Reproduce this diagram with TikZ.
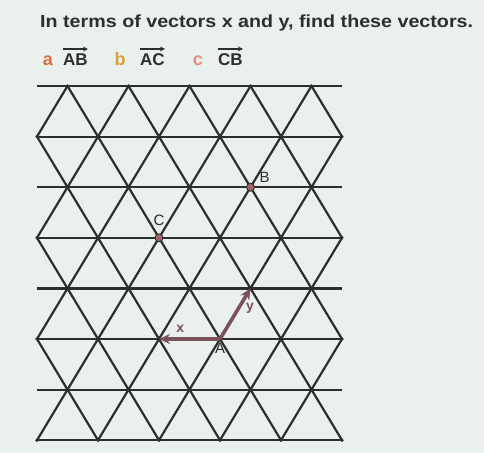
\documentclass[tikz,border=0pt]{standalone}
\usepackage{fontspec}
\setmainfont{Liberation Sans}
\usetikzlibrary{arrows.meta}

\definecolor{paper}{HTML}{E9F0EE}
\definecolor{ink}{HTML}{2B302F}
\definecolor{vecink}{HTML}{7B5159}
\definecolor{ptfill}{HTML}{A56468}
\definecolor{parta}{HTML}{D9703F}
\definecolor{partb}{HTML}{D9A23A}
\definecolor{partc}{HTML}{E0907F}

\tikzset{
  gridline/.style={ink, line width=2.2pt},
  latdot/.style={ink, fill=ink},
  vecline/.style={vecink, line width=3.6pt, -{Stealth[length=11pt,width=10pt]}},
  veclabel/.style={vecink, font=\fontsize{14}{14}\selectfont\bfseries, inner sep=0pt},
  ptlabel/.style={ink, font=\fontsize{15}{15}\selectfont, inner sep=0pt},
  bigpt/.style={draw=ink, fill=ptfill, line width=0.9pt},
  partletter/.style={font=\fontsize{18}{18}\selectfont\bfseries},
  partname/.style={ink, font=\fontsize{17}{17}\selectfont\bfseries, inner sep=0pt},
}

\begin{document}
\begin{tikzpicture}[x=1pt, y=-1pt]

 \fill[paper] (0,0) rectangle (484,453);
 \useasboundingbox (0,0) rectangle (484,453);

 %question
 \node[ink, anchor=base west, inner sep=0pt, xscale=1.125, font=\fontsize{17.5}{17.5}\selectfont\bfseries] (question) at (40,27)
   {In terms of vectors x and y, find these vectors.};

 \node[partletter, parta, anchor=base] (pa) at (48,65) {a};
 \node[partname, anchor=base west] (AB) at (63,65) {AB};
 \node[partletter, partb, anchor=base] (pb) at (120,65) {b};
 \node[partname, anchor=base west] (AC) at (140,65) {AC};
 \node[partletter, partc, anchor=base] (pc) at (198,65) {c};
 \node[partname, anchor=base west] (CB) at (218,65) {CB};

 \foreach \name in {AB, AC, CB} {
   \draw[ink, line width=1.5pt, -{Stealth[length=5pt,width=5pt]}] ([yshift=4pt]\name.north west) -- ([yshift=4pt]\name.north east);
 }

 %lattice points
 \def\sx{61}
 \def\sy{50.6}
 \foreach \r in {1,3,5,7} {
   \foreach \k in {0,...,4} {
     \coordinate (P\r-\k) at (67.5+\k*\sx, 86+\r*\sy-\sy);
   }
 }
 \foreach \r in {2,4,6,8} {
   \foreach \k in {0,...,5} {
     \coordinate (P\r-\k) at (37+\k*\sx, 86+\r*\sy-\sy);
   }
 }

 %horizontal lines
 \foreach \r in {1,...,8} {
   \coordinate (L\r) at (37, 86+\r*\sy-\sy);
   \coordinate (R\r) at (342, 86+\r*\sy-\sy);
   \draw[gridline] (L\r) -- (R\r);
 }

 %slanted lines
 \foreach \r/\e in {1/2, 3/2, 3/4, 5/4, 5/6, 7/6, 7/8} {
   \foreach \k [evaluate=\k as \kk using int(\k+1)] in {0,...,4} {
     \draw[gridline, line cap=round] (P\r-\k) -- (P\e-\k);
     \draw[gridline, line cap=round] (P\r-\k) -- (P\e-\kk);
   }
 }

 %dots
 \foreach \r in {1,3,5,7} {
   \foreach \k in {0,...,4} {
     \fill[latdot] (P\r-\k) circle (1.8);
   }
 }
 \foreach \r in {2,4,6,8} {
   \foreach \k in {0,...,5} {
     \fill[latdot] (P\r-\k) circle (1.8);
   }
 }

 %vectors
 \draw[vecline] (P6-3) -- node[veclabel, anchor=south, pos=0.65, yshift=5pt] (xlab) {x} (P6-2);
 \draw[vecline] (P6-3) -- node[veclabel, anchor=west, pos=0.6, xshift=6pt] (ylab) {y} (P5-3);
 \node[ptlabel, anchor=north, yshift=-4pt] (Alab) at (P6-3) {A};

 %points B and C
 \draw[bigpt] (P3-3) circle (4);
 \node[ptlabel, anchor=south west, xshift=9pt, yshift=5pt] (Blab) at (P3-3) {B};
 \draw[bigpt] (P4-2) circle (4);
 \node[ptlabel, anchor=south, yshift=12pt] (Clab) at (P4-2) {C};

\end{tikzpicture}
\end{document}
